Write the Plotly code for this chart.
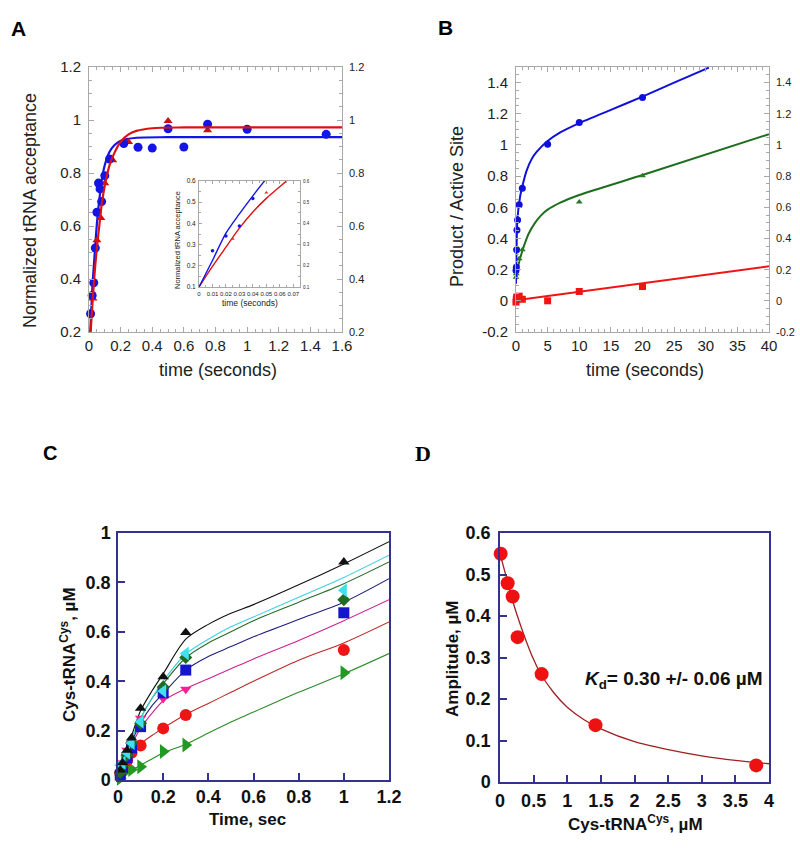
import plotly.graph_objects as go

# ---------- panel A : normalized tRNA acceptance ----------
a_blue_t = [0.01, 0.02, 0.03, 0.04, 0.05, 0.06, 0.07, 0.08, 0.1, 0.13, 0.22, 0.31, 0.4, 0.5, 0.6, 0.75, 1.0, 1.5]
a_blue_y = [0.269, 0.338, 0.386, 0.517, 0.652, 0.762, 0.74, 0.692, 0.79, 0.853, 0.911, 0.897, 0.894, 0.967, 0.898, 0.984, 0.965, 0.946]
a_red_t = [0.01, 0.025, 0.05, 0.075, 0.1, 0.15, 0.25, 0.5, 0.75]
a_red_y = [0.196, 0.326, 0.546, 0.63, 0.761, 0.848, 0.917, 0.996, 0.961]

# fitted curves
a_blue_fit_t = [0, 0.01, 0.02, 0.03, 0.04, 0.05, 0.06, 0.08, 0.1, 0.13, 0.16, 0.2, 0.3, 0.5, 1.0, 1.6]
a_blue_fit_y = [0.1, 0.225, 0.354, 0.445, 0.53, 0.61, 0.67, 0.77, 0.83, 0.88, 0.905, 0.922, 0.933, 0.935, 0.935, 0.935]
a_red_fit_t = [0, 0.01, 0.02, 0.03, 0.04, 0.05, 0.065, 0.08, 0.1, 0.13, 0.16, 0.2, 0.25, 0.3, 0.4, 0.6, 1.0, 1.6]
a_red_fit_y = [0.1, 0.197, 0.288, 0.378, 0.454, 0.518, 0.6, 0.68, 0.753, 0.83, 0.875, 0.918, 0.946, 0.959, 0.969, 0.972, 0.972, 0.972]

# inset
ins_blue_t = [0.01, 0.02, 0.03, 0.04]
ins_blue_y = [0.271, 0.34, 0.388, 0.518]
ins_red_t = [0.025, 0.05]
ins_red_y = [0.327, 0.545]

# ---------- panel B : product / active site ----------
b_blue_t = [0, 0.05, 0.1, 0.15, 0.25, 0.5, 1, 5, 10, 20]
b_blue_y = [0.195, 0.216, 0.327, 0.455, 0.519, 0.617, 0.722, 1.005, 1.144, 1.304]
b_green_t = [0, 0.05, 0.5, 1, 10, 20]
b_green_y = [0.152, 0.173, 0.27, 0.327, 0.634, 0.803]
b_red_t = [0, 0.05, 0.1, 0.5, 1, 5, 10, 20]
b_red_y = [-0.008, 0.01, 0.024, 0.03, 0.01, 0.0, 0.06, 0.092]

b_blue_fit_t = [0, 0.21, 0.63, 1.16, 1.68, 2.47, 3.26, 5, 7, 10, 15, 20, 25, 30.5]
b_blue_fit_y = [0.11, 0.515, 0.664, 0.76, 0.835, 0.909, 0.955, 1.025, 1.08, 1.14, 1.225, 1.31, 1.4, 1.496]
b_green_fit_t = [0, 0.5, 1, 1.5, 2, 3, 4, 5, 7, 10, 20, 40]
b_green_fit_y = [0.13, 0.25, 0.32, 0.38, 0.43, 0.5, 0.55, 0.585, 0.63, 0.679, 0.807, 1.069]
b_red_fit_t = [0, 40]
b_red_fit_y = [0.003, 0.222]

# ---------- panel C : Cys-tRNA formation ----------
c_time = [0.01, 0.02, 0.04, 0.06, 0.1, 0.2, 0.3, 1.0]
c_black = [0.04, 0.07, 0.12, 0.17, 0.29, 0.418, 0.597, 0.883]
c_cyan = [0.06, 0.07, 0.11, 0.15, 0.236, 0.36, 0.512, 0.768]
c_dkgreen = [0.03, 0.06, 0.10, 0.15, 0.23, 0.377, 0.496, 0.73]
c_blue = [0.02, 0.05, 0.09, 0.13, 0.216, 0.353, 0.445, 0.677]
c_magenta = [0.03, 0.07, 0.12, 0.148, 0.25, 0.33, 0.367, 0.683]
c_red = [0.027, 0.05, 0.08, 0.11, 0.14, 0.209, 0.263, 0.526]
c_green = [0.007, 0.03, 0.04, 0.043, 0.054, 0.115, 0.142, 0.434]

c_fit_t = [0, 0.05, 0.1, 0.15, 0.2, 0.3, 0.4, 0.5, 0.6, 0.8, 1.0, 1.2]
c_fit_black = [0, 0.15, 0.28, 0.36, 0.43, 0.57, 0.63, 0.675, 0.71, 0.79, 0.875, 0.965]
c_fit_cyan = [0, 0.14, 0.25, 0.33, 0.40, 0.51, 0.57, 0.62, 0.66, 0.74, 0.82, 0.91]
c_fit_dkgreen = [0, 0.14, 0.25, 0.33, 0.39, 0.495, 0.555, 0.60, 0.645, 0.72, 0.795, 0.883]
c_fit_blue = [0, 0.13, 0.23, 0.30, 0.35, 0.445, 0.50, 0.54, 0.58, 0.65, 0.72, 0.815]
c_fit_magenta = [0, 0.12, 0.21, 0.27, 0.32, 0.37, 0.41, 0.45, 0.49, 0.565, 0.645, 0.73]
c_fit_red = [0, 0.08, 0.145, 0.18, 0.21, 0.265, 0.31, 0.355, 0.40, 0.485, 0.555, 0.64]
c_fit_green = [0.01, 0.035, 0.06, 0.085, 0.11, 0.145, 0.19, 0.235, 0.275, 0.355, 0.43, 0.512]

# ---------- panel D : amplitude vs Cys-tRNA ----------
d_conc = [0.01, 0.114, 0.188, 0.262, 0.619, 1.42, 3.81]
d_amp = [0.55, 0.479, 0.447, 0.349, 0.26, 0.137, 0.04]
d_fit_x = [0, 0.1, 0.2, 0.3, 0.4, 0.5, 0.6, 0.8, 1.0, 1.25, 1.5, 2, 2.5, 3, 3.5, 4]
d_fit_y = [0.55, 0.49, 0.43, 0.38, 0.335, 0.295, 0.262, 0.215, 0.18, 0.15, 0.128, 0.097, 0.078, 0.063, 0.052, 0.044]

W, H = 800, 849
BLUE_A = '#1414e6'
RED_A = '#dd1111'
NAVY = '#33338f'


def px_x(a, b):
    return [a / W, b / W]


def px_y(top, bottom):
    return [1 - bottom / H, 1 - top / H]


fig = go.Figure()


def line(x, y, color, xa, ya, width=2, smoothing=0.8):
    fig.add_trace(go.Scatter(x=x, y=y, mode='lines',
                             line=dict(color=color, width=width, shape='spline', smoothing=smoothing),
                             xaxis=xa, yaxis=ya, hoverinfo='skip'))


def pts(x, y, color, symbol, size, xa, ya):
    fig.add_trace(go.Scatter(x=x, y=y, mode='markers', marker=dict(color=color, symbol=symbol, size=size, line=dict(width=0)),
                             xaxis=xa, yaxis=ya, cliponaxis=False))


# A
line(a_red_fit_t, a_red_fit_y, RED_A, 'x', 'y2', 2.2)
line(a_blue_fit_t, a_blue_fit_y, BLUE_A, 'x', 'y', 2.2)
pts(a_red_t, a_red_y, '#cc1010', 'triangle-up', 8, 'x', 'y')
pts(a_blue_t, a_blue_y, BLUE_A, 'circle', 9, 'x', 'y')

# inset
line(a_blue_fit_t, a_blue_fit_y, BLUE_A, 'x2', 'y4', 1.4)
line(a_red_fit_t, a_red_fit_y, RED_A, 'x2', 'y3', 1.4)
pts(ins_blue_t, ins_blue_y, BLUE_A, 'circle', 3.5, 'x2', 'y3')
pts(ins_red_t, ins_red_y, '#cc3030', 'triangle-up', 3.5, 'x2', 'y3')

# B
line(b_blue_fit_t, b_blue_fit_y, '#1010dd', 'x3', 'y6', 2, 0.5)
line(b_green_fit_t, b_green_fit_y, '#1f6e1f', 'x3', 'y5', 2, 0.5)
line(b_red_fit_t, b_red_fit_y, '#ee1515', 'x3', 'y5', 2)
pts(b_blue_t, b_blue_y, '#1010dd', 'circle', 7, 'x3', 'y5')
pts(b_green_t, b_green_y, '#2a7a2a', 'triangle-up', 6, 'x3', 'y5')
pts(b_red_t, b_red_y, '#ee1515', 'square', 7, 'x3', 'y5')

# C
c_series = [
    (c_fit_green, c_green, '#2a8a2a', '#229922', 'triangle-right', 13),
    (c_fit_red, c_red, '#c02828', '#ee1515', 'circle', 12),
    (c_fit_magenta, c_magenta, '#d02090', '#ff2090', 'triangle-down', 10),
    (c_fit_blue, c_blue, '#202080', '#1515cc', 'square', 11),
    (c_fit_dkgreen, c_dkgreen, '#2a6a2a', '#1f6b1f', 'diamond', 10),
    (c_fit_cyan, c_cyan, '#40d0e0', '#40e0f0', 'triangle-left', 12),
    (c_fit_black, c_black, '#111111', '#111111', 'triangle-up', 10),
]
for fit_y, data_y, lc, mc, sym, sz in c_series:
    line(c_fit_t, fit_y, lc, 'x4', 'y7', 1.1)
for fit_y, data_y, lc, mc, sym, sz in c_series:
    pts(c_time, data_y, mc, sym, sz, 'x4', 'y7')

# D
line(d_fit_x, d_fit_y, '#a02020', 'x5', 'y8', 1.3)
pts(d_conc, d_amp, '#ee1111', 'circle', 14, 'x5', 'y8')

GRAY = '#a8a8a8'
TXT = '#222222'


def ab_axis(dom, rng, dtick, minor_dtick, size=15, ticklen=5, minorlen=3, **kw):
    d = dict(domain=dom, range=rng, dtick=dtick, showline=True, linecolor=GRAY, linewidth=1, mirror='ticks',
             ticks='inside', ticklen=ticklen, tickcolor=GRAY, showgrid=False, zeroline=False,
             automargin=False, tickangle=0,
             minor=dict(ticks='inside', dtick=minor_dtick, ticklen=minorlen, tickcolor=GRAY),
             tickfont=dict(family='Arial', size=size, color=TXT))
    d.update(kw)
    return d


def right_axis(over, anchor, rng, dtick, size, **kw):
    d = dict(overlaying=over, anchor=anchor, side='right', range=rng, dtick=dtick, showline=False, ticks='',
             showgrid=False, zeroline=False, automargin=False,
             tickfont=dict(family='Arial', size=size, color=TXT))
    d.update(kw)
    return d


def cd_axis(dom, rng, tickvals, **kw):
    d = dict(domain=dom, range=rng, tickvals=tickvals, ticktext=['%g' % v for v in tickvals],
             showline=True, linecolor=NAVY, linewidth=1.5, mirror=True, automargin=False, tickangle=0,
             ticks='inside', ticklen=7, tickwidth=1.5, tickcolor=NAVY, showgrid=False, zeroline=False,
             tickfont=dict(family='Arial', size=18, color='#111111', weight='bold'))
    d.update(kw)
    return d


b_ticks = [-0.2, 0, 0.2, 0.4, 0.6, 0.8, 1, 1.2, 1.4]
b_text = ['-0.2', '0', '0.2', '0.4', '0.6', '0.8', '1', '1.2', '1.4']

fig.update_layout(
    width=W, height=H, margin=dict(l=0, r=0, t=0, b=0, autoexpand=False),
    paper_bgcolor='white', plot_bgcolor='white', showlegend=False,
    # A
    xaxis=ab_axis(px_x(89, 342), [0, 1.6], 0.2, 0.05, anchor='y', ticklabelstandoff=0),
    yaxis=ab_axis(px_y(67, 332), [0.2, 1.2], 0.2, 0.05, anchor='x', ticklabelstandoff=4),
    yaxis2=right_axis('y', 'x', [0.2, 1.2], 0.2, 11, ticklabelstandoff=6),
    # inset
    xaxis2=ab_axis(px_x(199, 300), [0, 0.075], 0.01, 0.005, size=6, ticklen=3, minorlen=2,
                   anchor='y3', ticklabelstandoff=1),
    yaxis3=ab_axis(px_y(181, 287), [0.1, 0.6], 0.1, 0.05, size=6.5, ticklen=3, minorlen=2,
                   anchor='x2', ticklabelstandoff=1),
    yaxis4=right_axis('y3', 'x2', [0.1, 0.6], 0.1, 4.5, ticklabelstandoff=2),
    # B
    xaxis3=ab_axis(px_x(516, 769), [0, 40], 5, 1, anchor='y5', ticklabelstandoff=0),
    yaxis5=ab_axis(px_y(67, 332), [-0.2, 1.5], None, 0.05, anchor='x3', tickvals=b_ticks, ticktext=b_text,
                   ticklabelstandoff=4),
    yaxis6=right_axis('y5', 'x3', [-0.2, 1.5], None, 11, tickvals=b_ticks, ticktext=b_text, ticklabelstandoff=6),
    # C
    xaxis4=cd_axis(px_x(118, 389), [0, 1.2], [0, 0.2, 0.4, 0.6, 0.8, 1, 1.2], anchor='y7', ticklabelstandoff=0),
    yaxis7=cd_axis(px_y(533, 780), [0, 1], [0, 0.2, 0.4, 0.6, 0.8, 1], anchor='x4', ticklabelstandoff=2),
    # D
    xaxis5=cd_axis(px_x(500, 769), [0, 4], [0, 0.5, 1, 1.5, 2, 2.5, 3, 3.5, 4], anchor='y8', ticklabelstandoff=2),
    yaxis8=cd_axis(px_y(533, 782), [0, 0.6], [0, 0.1, 0.2, 0.3, 0.4, 0.5, 0.6], anchor='x5', ticklabelstandoff=4),
)


def note(text, x, y, size, angle=0, family='Arial', color=TXT, bold=False):
    fig.add_annotation(text=text, x=x / W, y=1 - y / H, xref='paper', yref='paper', showarrow=False,
                       textangle=angle, xanchor='center', yanchor='middle',
                       font=dict(family=family, size=size, color=color, weight='bold' if bold else 'normal'))


# panel letters
note('A', 18, 28, 21, bold=True, color='#000')
note('B', 445, 27, 21, bold=True, color='#000')
note('C', 50, 453, 20, bold=True, color='#000')
note('D', 423, 453, 22, family='Liberation Serif', bold=True, color='#000')

# axis titles
note('Normalized tRNA acceptance', 30, 211, 18, angle=-90)
note('time (seconds)', 218, 370, 18)
note('Normalized tRNA acceptance', 177, 240, 7.5, angle=-90)
note('time (seconds)', 250, 303, 8.5)
note('Product / Active Site', 457, 207, 18, angle=-90)
note('time (seconds)', 645, 370, 18)
note('Cys-tRNA<sup>Cys</sup>, µM', 68, 655, 17, angle=-90, color='#111', bold=True)
note('Time, sec', 247, 819, 17, color='#111', bold=True)
note('Amplitude, µM', 452, 658, 17, angle=-90, color='#111', bold=True)
note('Cys-tRNA<sup>Cys</sup>, µM', 635, 823, 17, color='#111', bold=True)
note('<i>K</i><sub>d</sub>= 0.30 +/- 0.06 µM', 674, 680, 19, color='#111', bold=True)

# the page body has a default margin; remove it so the figure sits at the window's corner
fig.write_html("out.html", config={'displayModeBar': False},
               post_script="document.body.style.margin='0';")
